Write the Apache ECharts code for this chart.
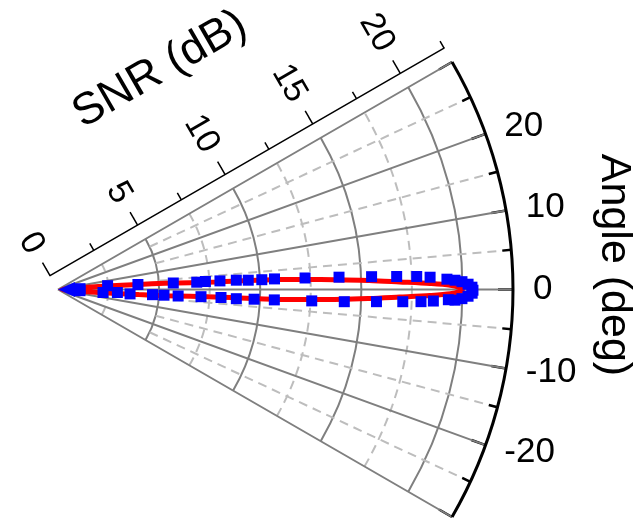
<!DOCTYPE html>
<html><head><meta charset="utf-8">
<script src="https://cdn.jsdelivr.net/npm/echarts@6/dist/echarts.min.js"></script>
<style>html,body{margin:0;padding:0;background:#fff}#c{width:637px;height:519px}</style>
</head><body><div id="c"></div>
<script>
// ---- data ----
const radiusLabelTicks = [0, 5, 10, 15, 20];
const angleLabelTicks = [-20, -10, 0, 10, 20];
const radiusMax = 22.5;
const angleMin = -30, angleMax = 30;
// fitted curve [SNR dB, angle deg]
const fitCurve = [
  [0, 4.5], [2, 4.3], [4, 3.6], [5.3, 3.3], [7.8, 2.75], [11, 2.55], [13, 2.2],
  [15.4, 1.65], [16.9, 1.26], [18.4, 0.92], [19.4, 0.63], [19.85, 0.3], [20, 0],
  [19.85, -0.3], [19.4, -0.63], [18.4, -0.92], [16.9, -1.26], [15.4, -1.65],
  [13, -2.2], [11, -2.55], [7.8, -2.75], [5.3, -3.3], [4, -3.6], [2, -4.3], [0, -4.5]
];
// measured points [SNR dB, angle deg]
const measured = [
  [1.09, 2.1], [2.46, 4.4], [3.96, 3.58], [5.71, 3.23], [6.87, 3.01], [7.30, 3.11],
  [8.02, 3.04], [8.83, 2.99], [9.42, 2.80], [10.09, 2.75], [10.72, 2.80], [12.23, 2.67],
  [13.91, 2.51], [15.52, 2.34], [16.76, 2.20], [17.75, 2.08], [18.41, 1.89], [19.24, 1.52],
  [19.64, 1.34], [19.98, 1.11], [20.28, 0.74], [20.47, 0.32], [20.52, -0.10],
  [20.48, -0.51], [20.28, -0.94], [19.98, -1.30], [19.64, -1.54], [19.31, -1.50],
  [18.57, -1.76], [17.96, -1.92], [17.06, -2.03], [15.76, -2.19], [14.17, -2.44],
  [12.56, -2.57], [10.71, -2.75], [9.71, -2.83], [8.83, -2.95], [8.07, -2.81],
  [7.08, -2.88], [5.95, -3.10], [5.25, -3.08], [4.68, -3.15], [3.57, -3.50],
  [2.94, -2.90], [2.23, -3.81], [1.09, -3.1]
];
const originPoint = [0.42, 0];

// ---- layout ----
const CX = 58, CY = 289.5, R = 455;
const pxPerDb = R / radiusMax;
const OFF = 16;
const OX = CX - OFF * Math.sin(Math.PI / 6), OY = CY - OFF * Math.cos(Math.PI / 6);
const FONT = '"Liberation Sans", Arial, sans-serif';
const GRAY = '#7f7f7f', LGRAY = '#bdbdbd';

const hiddenAngle = (i) => ({polarIndex: i, type: 'value', min: angleMin, max: angleMax,
  startAngle: angleMin, endAngle: angleMax, clockwise: false, show: false});
const hiddenRadius = (i) => ({polarIndex: i, type: 'value', min: 0, max: radiusMax, show: false});

const chart = echarts.init(document.getElementById('c'), null, {renderer: 'canvas'});
chart.setOption({
  backgroundColor: '#fff',
  animation: false,
  polar: [
    {center: [CX, CY], radius: [0, R]},                                  // 0 main
    {center: [CX, CY], radius: [0, 20 * pxPerDb]},                       // 1 solid arcs
    {center: [CX, CY], radius: [2.5 * pxPerDb, 17.5 * pxPerDb]},         // 2 dashed arcs
    {center: [CX, CY], radius: [5 * pxPerDb, R]},                        // 3 dashed radials
    {center: [OX, OY], radius: [0, R]},                                  // 4 offset axis line + minor ticks
    {center: [OX, OY], radius: [0, 20 * pxPerDb]}                        // 5 offset major ticks + labels
  ],
  angleAxis: [
    {polarIndex: 0, type: 'value', min: angleMin, max: angleMax, interval: 10,
     startAngle: angleMin, endAngle: angleMax, clockwise: false, z: 1,
     axisLine: {show: true, lineStyle: {color: '#000', width: 3}},
     axisTick: {show: true, inside: true, length: 15, lineStyle: {color: '#000', width: 2.5}},
     minorTick: {show: true, splitNumber: 2, length: 9, lineStyle: {color: '#000', width: 2.5}},
     axisLabel: {show: true, margin: 20, fontSize: 35, color: '#000', fontFamily: FONT,
       align: 'left', verticalAlign: 'middle', lineHeight: 1,
       formatter: (v) => angleLabelTicks.indexOf(Math.round(v)) >= 0 ? String(Math.round(v)) : ''},
     splitLine: {show: true, lineStyle: {color: GRAY, width: 2}}},
    hiddenAngle(1), hiddenAngle(2),
    {polarIndex: 3, type: 'value', min: angleMin, max: angleMax, interval: 10,
     startAngle: angleMin, endAngle: angleMax, clockwise: false,
     axisLine: {show: false}, axisTick: {show: false}, axisLabel: {show: false},
     splitLine: {show: false}, minorTick: {show: false, splitNumber: 2},
     minorSplitLine: {show: true, lineStyle: {color: LGRAY, width: 2, type: [9, 6]}}},
    {polarIndex: 4, type: 'value', min: 0, max: 360, startAngle: 30, show: false},
    {polarIndex: 5, type: 'value', min: 0, max: 360, startAngle: 30, show: false}
  ],
  radiusAxis: [
    hiddenRadius(0),
    {polarIndex: 1, type: 'value', min: 0, max: 20, interval: 5,
     axisLine: {show: false}, axisTick: {show: false}, axisLabel: {show: false},
     splitLine: {show: true, lineStyle: {color: GRAY, width: 2}}},
    {polarIndex: 2, type: 'value', min: 2.5, max: 17.5, interval: 5,
     axisLine: {show: false}, axisTick: {show: false}, axisLabel: {show: false},
     splitLine: {show: true, lineStyle: {color: LGRAY, width: 2, type: [9, 6]}}},
    hiddenRadius(3),
    {polarIndex: 4, type: 'value', min: 0, max: radiusMax, interval: 2.5,
     axisLine: {show: true, lineStyle: {color: '#000', width: 1.5}},
     axisTick: {show: true, inside: false, length: 8, lineStyle: {color: '#000', width: 1.5}},
     axisLabel: {show: false}, splitLine: {show: false}},
    {polarIndex: 5, type: 'value', min: 0, max: 20, interval: 5,
     axisLine: {show: false},
     axisTick: {show: true, inside: false, length: 15, lineStyle: {color: '#000', width: 1.5}},
     axisLabel: {show: true, rotate: -60, margin: 28, fontSize: 34, color: '#000', fontFamily: FONT,
       formatter: (v) => radiusLabelTicks.indexOf(v) >= 0 ? String(v) : ''},
     splitLine: {show: false},
     name: 'SNR (dB)', nameLocation: 'middle', nameGap: -146,
     nameTextStyle: {fontSize: 45, color: '#000', fontFamily: FONT, padding: [0, 8, 0, 0]}}
  ],
  graphic: [{
    type: 'text', x: 614, y: 265, rotation: -Math.PI / 2,
    style: {text: 'Angle (deg)', fontSize: 43, fontFamily: FONT, fill: '#000',
            align: 'center', verticalAlign: 'middle'}
  }],
  series: [
    {type: 'line', coordinateSystem: 'polar', polarIndex: 0, data: fitCurve,
     showSymbol: false, smooth: 0.3, z: 3,
     lineStyle: {color: '#ff0000', width: 5}},
    {type: 'scatter', coordinateSystem: 'polar', polarIndex: 0, data: measured,
     symbol: 'rect', symbolSize: 11, z: 4, itemStyle: {color: '#0000ff', opacity: 1}},
    {type: 'scatter', coordinateSystem: 'polar', polarIndex: 0, data: [originPoint],
     symbol: 'triangle', symbolRotate: 90, symbolSize: [15, 17], z: 4,
     itemStyle: {color: '#0000ff', opacity: 1}}
  ]
});
</script></body></html>
